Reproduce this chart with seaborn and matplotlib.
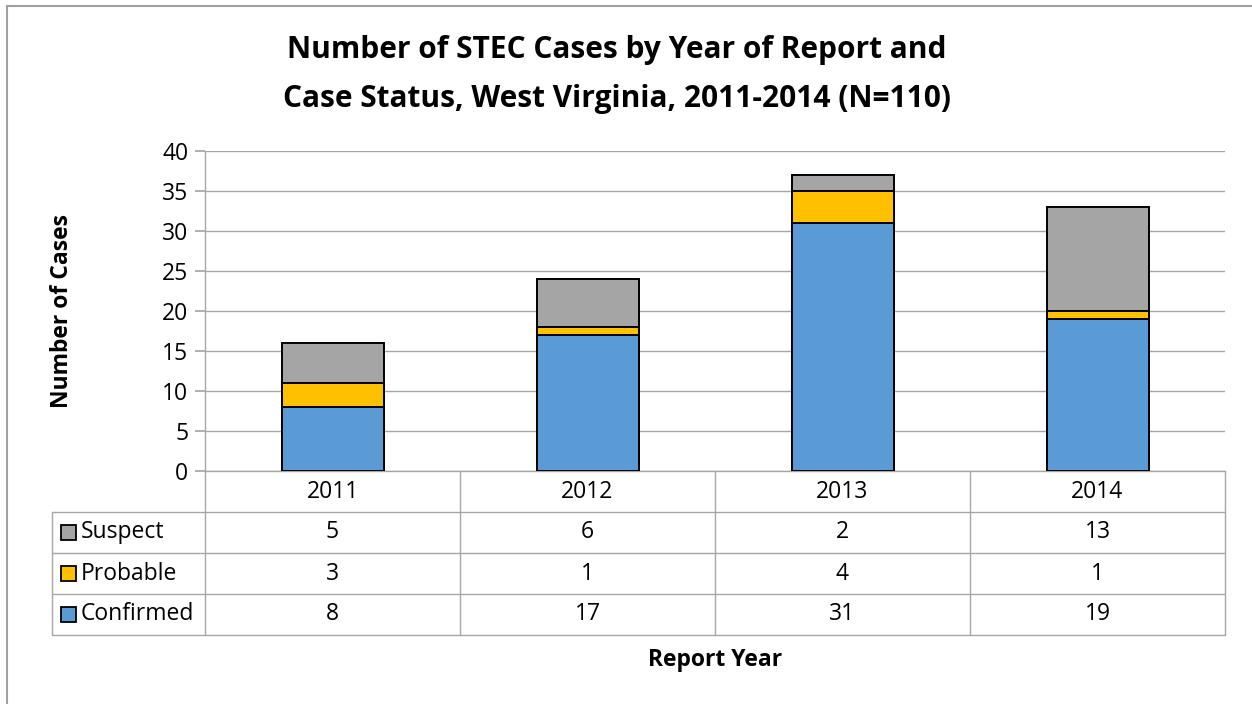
import matplotlib
matplotlib.use("Agg")
import matplotlib.pyplot as plt
import seaborn as sns
import pandas as pd
from matplotlib.transforms import blended_transform_factory
from matplotlib.lines import Line2D
from matplotlib.patches import Rectangle

# ---- data ----
years = ["2011", "2012", "2013", "2014"]
confirmed = [8, 17, 31, 19]
probable = [3, 1, 4, 1]
suspect = [5, 6, 2, 13]
table_rows = ["Suspect", "Probable", "Confirmed"]
y_ticks = [0, 5, 10, 15, 20, 25, 30, 35, 40]
title_lines = ["Number of STEC Cases by Year of Report and",
               "Case Status, West Virginia, 2011-2014 (N=110)"]

colors = {"Confirmed": "#5B9BD5", "Probable": "#FFC000", "Suspect": "#A5A5A5"}
grid_c = "#A6A6A6"

sns.set_theme(style="white")
plt.rcParams['font.family'] = ['Open Sans', 'DejaVu Sans']
plt.rcParams['text.color'] = 'black'

FS = 16.5

W, H = 1252, 704
fig = plt.figure(figsize=(W / 100, H / 100), dpi=100)
L, R, T, B = 205, 1225, 151, 471
ax = fig.add_axes([L / W, 1 - B / H, (R - L) / W, (B - T) / H])

df = pd.DataFrame({"year": years, "Confirmed": confirmed,
                   "Probable": probable, "Suspect": suspect})
df["c_top"] = df["Confirmed"]
df["p_top"] = df["Confirmed"] + df["Probable"]
df["s_top"] = df["p_top"] + df["Suspect"]

for col, name in [("s_top", "Suspect"), ("p_top", "Probable"), ("c_top", "Confirmed")]:
    sns.barplot(data=df, x="year", y=col, color=colors[name], saturation=1,
                width=0.40, edgecolor="black", linewidth=1.4, ax=ax, zorder=3,
                errorbar=None)

ax.set_xlim(-0.5, len(years) - 0.5)
ax.set_ylim(0, 40)
ax.set_yticks(y_ticks)
ax.set_axisbelow(True)
ax.yaxis.grid(True, color=grid_c, lw=1)
ax.xaxis.grid(False)
for s in ["top", "right"]:
    ax.spines[s].set_visible(False)
for s in ["left", "bottom"]:
    ax.spines[s].set_color(grid_c)
    ax.spines[s].set_linewidth(1)
ax.tick_params(axis="y", which="both", left=True, length=7, color=grid_c,
               labelsize=FS, pad=5, labelcolor="black")
ax.tick_params(axis="x", bottom=False, labelbottom=False)
ax.set_xlabel("")
ax.set_ylabel("")

# ---- data table below the axis ----
tr = blended_transform_factory(ax.transData, ax.transAxes)
px_per_unit = (R - L) / len(years)
h = 41 / (B - T)
x0 = -0.5
xl = -0.5 - (L - 52) / px_per_unit
nrows = len(table_rows)

def line(xs, ys):
    ax.add_line(Line2D(xs, ys, transform=tr, color=grid_c, lw=1, clip_on=False))

for i in range(len(years) + 1):
    line([x0 + i, x0 + i], [0, -(nrows + 1) * h])
for j in range(1, nrows + 2):
    line([xl, len(years) - 0.5], [-j * h, -j * h])
line([xl, xl], [-h, -(nrows + 1) * h])

for i, yr in enumerate(years):
    ax.text(i, -0.5 * h, yr, transform=tr, ha="center", va="center", fontsize=FS)

row_vals = {"Suspect": suspect, "Probable": probable, "Confirmed": confirmed}
sw = 15 / px_per_unit
sh = 15 / (B - T)
for j, name in enumerate(table_rows):
    yc = -(j + 1.5) * h
    ax.add_patch(Rectangle((-0.5 - (L - 61) / px_per_unit, yc - sh / 2), sw, sh,
                           transform=tr, facecolor=colors[name], edgecolor="black",
                           lw=1.3, clip_on=False))
    ax.text(-0.5 - (L - 81) / px_per_unit, yc, name, transform=tr, ha="left",
            va="center", fontsize=FS)
    for i, v in enumerate(row_vals[name]):
        ax.text(i, yc, str(v), transform=tr, ha="center", va="center", fontsize=FS)

# ---- labels ----
fig.text(62 / W, 1 - 311 / H, "Number of Cases", rotation=90, ha="center",
         va="center", fontsize=FS, fontweight="bold")
fig.text(715 / W, 1 - 660 / H, "Report Year", ha="center", va="center",
         fontsize=FS, fontweight="bold")
for k, (tl, yp) in enumerate(zip(title_lines, [50, 99])):
    fig.text(617 / W, 1 - yp / H, tl, ha="center", va="center", fontsize=21.5,
             fontweight="bold")

# figure border (top and left visible)
fig.add_artist(Line2D([7 / W, 1], [1 - 6 / H, 1 - 6 / H], transform=fig.transFigure,
                      color="#A0A0A0", lw=1.5))
fig.add_artist(Line2D([7 / W, 7 / W], [0, 1 - 6 / H], transform=fig.transFigure,
                      color="#A0A0A0", lw=1.5))

fig.savefig("out.png", dpi=100)
